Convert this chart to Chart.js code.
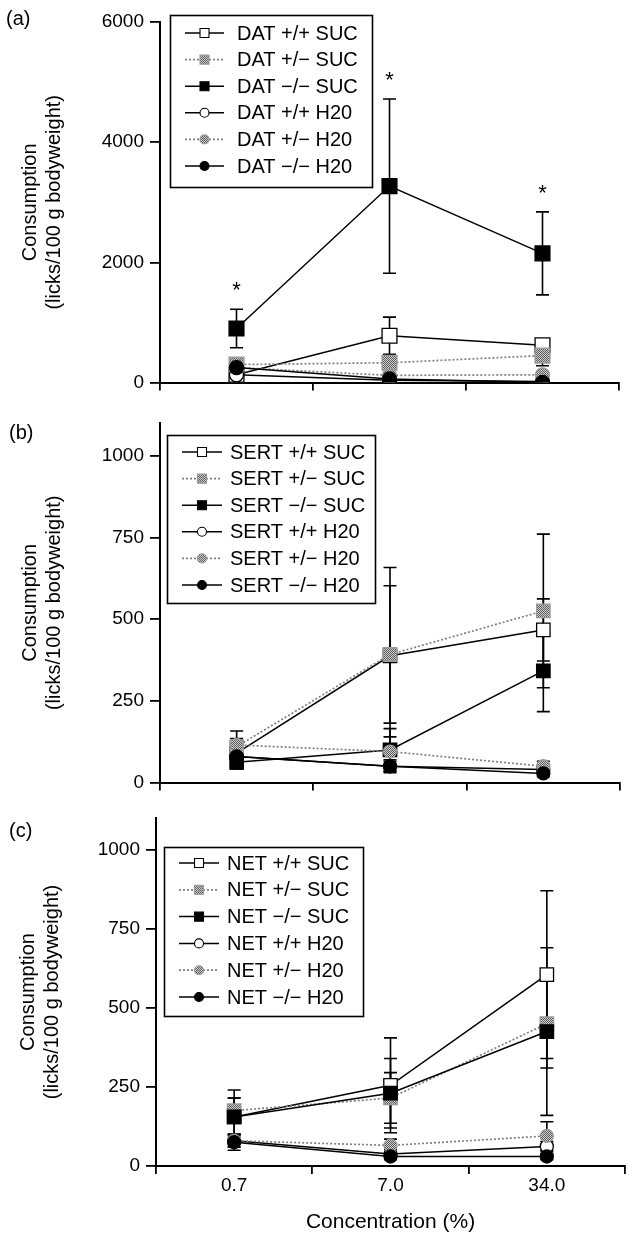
<!DOCTYPE html>
<html><head><meta charset="utf-8">
<script src="https://cdn.jsdelivr.net/npm/chart.js@4.4.1/dist/chart.umd.min.js"></script>
<style>
html,body{margin:0;padding:0;background:#fff}
body{width:643px;height:1235px;position:relative;overflow:hidden;font-family:"Liberation Sans",Arial,Helvetica,sans-serif}
canvas{position:absolute;left:0}
.lab{position:absolute;font-size:20px;line-height:24px;color:#000}
</style></head><body>
<canvas id="ca" width="643" height="400" style="top:0px"></canvas>
<canvas id="cb" width="643" height="400" style="top:400px"></canvas>
<canvas id="cc" width="643" height="435" style="top:800px"></canvas>
<div class="lab" style="left:6px;top:6px">(a)</div>
<div class="lab" style="left:9px;top:420px">(b)</div>
<div class="lab" style="left:9px;top:818px">(c)</div>
<script>
// ---------- data ----------
const concentrations = ['0.7', '7.0', '34.0'];

// Panel (a) DAT
const datLabels = ['DAT +/+ SUC', 'DAT +/\u2212 SUC', 'DAT \u2212/\u2212 SUC', 'DAT +/+ H20', 'DAT +/\u2212 H20', 'DAT \u2212/\u2212 H20'];
const datSucWT = [130, 780, 620];     const datSucWTErr = [40, 310, 60];
const datSucHet = [300, 330, 450];    const datSucHetErr = [60, 100, 170];
const datSucKO = [900, 3270, 2150];   const datSucKOErr = [320, 1450, 690];
const datH2oWT = [130, 40, 20];       const datH2oWTErr = [30, 20, 10];
const datH2oHet = [250, 120, 130];    const datH2oHetErr = [40, 30, 40];
const datH2oKO = [250, 60, 5];        const datH2oKOErr = [40, 20, 5];
const datSucKOSig = ['*', '*', '*'];
const datTicks = [0, 2000, 4000, 6000];

// Panel (b) SERT
const sertLabels = ['SERT +/+ SUC', 'SERT +/\u2212 SUC', 'SERT \u2212/\u2212 SUC', 'SERT +/+ H20', 'SERT +/\u2212 H20', 'SERT \u2212/\u2212 H20'];
const sertSucWT = [90, 388, 467];     const sertSucWTErr = [30, 270, 95];
const sertSucHet = [110, 392, 525];   const sertSucHetErr = [48, 210, 235];
const sertSucKO = [62, 100, 342];     const sertSucKOErr = [20, 65, 125];
const sertH2oWT = [80, 50, 40];       const sertH2oWTErr = [15, 15, 10];
const sertH2oHet = [115, 95, 50];     const sertH2oHetErr = [20, 45, 15];
const sertH2oKO = [80, 50, 28];       const sertH2oKOErr = [15, 20, 10];
const sertTicks = [0, 250, 500, 750, 1000];

// Panel (c) NET
const netLabels = ['NET +/+ SUC', 'NET +/\u2212 SUC', 'NET \u2212/\u2212 SUC', 'NET +/+ H20', 'NET +/\u2212 H20', 'NET \u2212/\u2212 H20'];
const netSucWT = [155, 255, 605];     const netSucWTErr = [85, 150, 265];
const netSucHet = [175, 215, 450];    const netSucHetErr = [40, 80, 140];
const netSucKO = [155, 230, 425];     const netSucKOErr = [60, 110, 265];
const netH2oWT = [80, 38, 62];        const netH2oWTErr = [20, 15, 15];
const netH2oHet = [80, 65, 95];       const netH2oHetErr = [20, 20, 45];
const netH2oKO = [75, 30, 30];        const netH2oKOErr = [25, 10, 10];
const netTicks = [0, 250, 500, 750, 1000];

const yTitle = ['Consumption', '(licks/100 g bodyweight)'];
const xTitle = 'Concentration (%)';

// ---------- styles ----------
const FONT = '"Liberation Sans", Arial, Helvetica, sans-serif';
function grayPattern() {
  const c = document.createElement('canvas'); c.width = 2; c.height = 2;
  const g = c.getContext('2d');
  g.fillStyle = '#d0d0d0'; g.fillRect(0, 0, 2, 2);
  g.fillStyle = '#5a5a5a'; g.fillRect(0, 0, 1, 1); g.fillRect(1, 1, 1, 1);
  return g.createPattern(c, 'repeat');
}
const GRAY = grayPattern();
const styles = [
  {shape: 'rect',   fill: '#ffffff', stroke: '#000', line: '#000', dash: [],     lw: 1.5},
  {shape: 'rect',   fill: GRAY,      stroke: '#999', line: '#808080', dash: [2, 2], lw: 1.7},
  {shape: 'rect',   fill: '#000000', stroke: '#000', line: '#000', dash: [],     lw: 1.5},
  {shape: 'circle', fill: '#ffffff', stroke: '#000', line: '#000', dash: [],     lw: 1.5},
  {shape: 'circle', fill: GRAY,      stroke: '#999', line: '#808080', dash: [2, 2], lw: 1.7},
  {shape: 'circle', fill: '#000000', stroke: '#000', line: '#000', dash: [],     lw: 1.5}
];

function buildDatasets(labels, vals, errs, rectR, circR, sigs) {
  return labels.map((lab, i) => {
    const s = styles[i];
    return {
      label: lab, data: vals[i], errors: errs[i], sig: sigs ? sigs[i] : null,
      borderColor: s.line, borderDash: s.dash, borderWidth: s.lw,
      pointStyle: s.shape, pointRadius: s.shape === 'rect' ? rectR : circR,
      pointBackgroundColor: s.fill, pointBorderColor: s.stroke, pointBorderWidth: 1.3,
      tension: 0, fill: false, order: 6 - i
    };
  });
}

// ---------- plugins ----------
const errorBars = {
  id: 'errorBars',
  beforeDatasetsDraw(chart) {
    const ctx = chart.ctx, y = chart.scales.y;
    ctx.save();
    ctx.strokeStyle = '#000'; ctx.lineWidth = 1.6; ctx.setLineDash([]);
    chart.data.datasets.forEach((ds, i) => {
      const meta = chart.getDatasetMeta(i);
      meta.data.forEach((pt, j) => {
        const v = ds.data[j], e = ds.errors[j];
        const x = pt.x;
        const yt = y.getPixelForValue(v + e), yb = y.getPixelForValue(Math.max(0, v - e));
        ctx.beginPath();
        ctx.moveTo(x, yt); ctx.lineTo(x, yb);
        ctx.moveTo(x - 6.5, yt); ctx.lineTo(x + 6.5, yt);
        if (v - e > 0) { ctx.moveTo(x - 6.5, yb); ctx.lineTo(x + 6.5, yb); }
        ctx.stroke();
      });
    });
    ctx.restore();
  },
  afterDatasetsDraw(chart) {
    const ctx = chart.ctx, y = chart.scales.y;
    ctx.save();
    ctx.fillStyle = '#000'; ctx.font = '22px ' + FONT; ctx.textAlign = 'center'; ctx.textBaseline = 'middle';
    chart.data.datasets.forEach((ds, i) => {
      if (!ds.sig) return;
      const meta = chart.getDatasetMeta(i);
      meta.data.forEach((pt, j) => {
        if (!ds.sig[j]) return;
        ctx.fillText(ds.sig[j], pt.x, y.getPixelForValue(ds.data[j] + ds.errors[j]) - 18);
      });
    });
    ctx.restore();
  }
};

const boxLegend = {
  id: 'boxLegend',
  afterDraw(chart, args, o) {
    const ctx = chart.ctx;
    ctx.save();
    ctx.setLineDash([]);
    ctx.strokeStyle = '#000'; ctx.lineWidth = 1.6;
    ctx.strokeRect(o.x + 0.5, o.y + 0.5, o.w, o.h);
    chart.data.datasets.forEach((ds, i) => {
      const cy = o.y + o.first + i * o.step;
      ctx.beginPath(); ctx.setLineDash(ds.borderDash || []);
      ctx.strokeStyle = ds.borderColor; ctx.lineWidth = ds.borderWidth;
      ctx.moveTo(o.lx0, cy); ctx.lineTo(o.lx1, cy); ctx.stroke();
      ctx.setLineDash([]);
      const cx = (o.lx0 + o.lx1) / 2;
      ctx.fillStyle = ds.pointBackgroundColor; ctx.strokeStyle = ds.pointBorderColor; ctx.lineWidth = 1.1;
      ctx.beginPath();
      if (ds.pointStyle === 'rect') ctx.rect(cx - 4.5, cy - 4.5, 9, 9);
      else ctx.arc(cx, cy, 4.5, 0, Math.PI * 2);
      ctx.fill(); ctx.stroke();
      ctx.fillStyle = '#000'; ctx.font = '20px ' + FONT; ctx.textBaseline = 'middle'; ctx.textAlign = 'left';
      ctx.fillText(ds.label, o.tx, cy + 1);
    });
    ctx.restore();
  }
};

// ---------- chart factory ----------
function makeChart(id, datasets, ticks, yMax, pad, axisW, xH, showX, legend) {
  const step = ticks[1] - ticks[0];
  return new Chart(document.getElementById(id), {
    type: 'line',
    data: {labels: concentrations, datasets},
    plugins: [errorBars, boxLegend],
    options: {
      responsive: false, animation: false, devicePixelRatio: 1,
      layout: {padding: pad},
      plugins: {legend: {display: false}, tooltip: {enabled: false}, boxLegend: legend},
      scales: {
        x: {
          type: 'category', offset: true,
          grid: {display: true, drawOnChartArea: false, offset: true, tickLength: 8, color: '#000', lineWidth: 1.8},
          border: {display: true, color: '#000', width: 2},
          ticks: {display: showX, color: '#000', font: {size: 19, family: FONT}, padding: 0},
          title: {display: showX, text: xTitle, color: '#000', font: {size: 21, family: FONT, lineHeight: 1.2}, padding: 0},
          afterFit(s) { s.height = xH; }
        },
        y: {
          min: 0, max: yMax,
          afterBuildTicks(s) { s.ticks = ticks.map(v => ({value: v})); },
          ticks: {stepSize: step, includeBounds: false, color: '#000', font: {size: 19, family: FONT}, padding: 6, callback: v => String(v)},
          grid: {display: true, drawOnChartArea: false, tickLength: 10, color: '#000', lineWidth: 1.8},
          border: {display: true, color: '#000', width: 2},
          title: {display: true, text: yTitle, color: '#000', font: {size: 20, family: FONT, lineHeight: 1.2}, padding: 0},
          afterFit(s) { s.width = axisW; }
        }
      }
    }
  });
}

makeChart('ca',
  buildDatasets(datLabels,
    [datSucWT, datSucHet, datSucKO, datH2oWT, datH2oHet, datH2oKO],
    [datSucWTErr, datSucHetErr, datSucKOErr, datH2oWTErr, datH2oHetErr, datH2oKOErr],
    10.5, 7, [null, null, datSucKOSig, null, null, null]),
  datTicks, 6000, {left: 18, right: 24, top: 22, bottom: 0}, 142, 16, false,
  {x: 170, y: 15, w: 202, h: 172, first: 18, step: 26.6, lx0: 185, lx1: 224, tx: 237});

makeChart('cb',
  buildDatasets(sertLabels,
    [sertSucWT, sertSucHet, sertSucKO, sertH2oWT, sertH2oHet, sertH2oKO],
    [sertSucWTErr, sertSucHetErr, sertSucKOErr, sertH2oWTErr, sertH2oHetErr, sertH2oKOErr],
    9.5, 6.5, null),
  sertTicks, 1100, {left: 18, right: 23, top: 23, bottom: 0}, 142, 16, false,
  {x: 167, y: 35, w: 208, h: 168, first: 17, step: 26.6, lx0: 182, lx1: 222, tx: 230});

makeChart('cc',
  buildDatasets(netLabels,
    [netSucWT, netSucHet, netSucKO, netH2oWT, netH2oHet, netH2oKO],
    [netSucWTErr, netSucHetErr, netSucKOErr, netH2oWTErr, netH2oHetErr, netH2oKOErr],
    9.5, 6.5, null),
  netTicks, 1100, {left: 16, right: 18, top: 18, bottom: 0}, 140, 69, true,
  {x: 164, y: 47, w: 199, h: 169, first: 16, step: 26.8, lx0: 179, lx1: 219, tx: 227});
</script>
</body></html>
